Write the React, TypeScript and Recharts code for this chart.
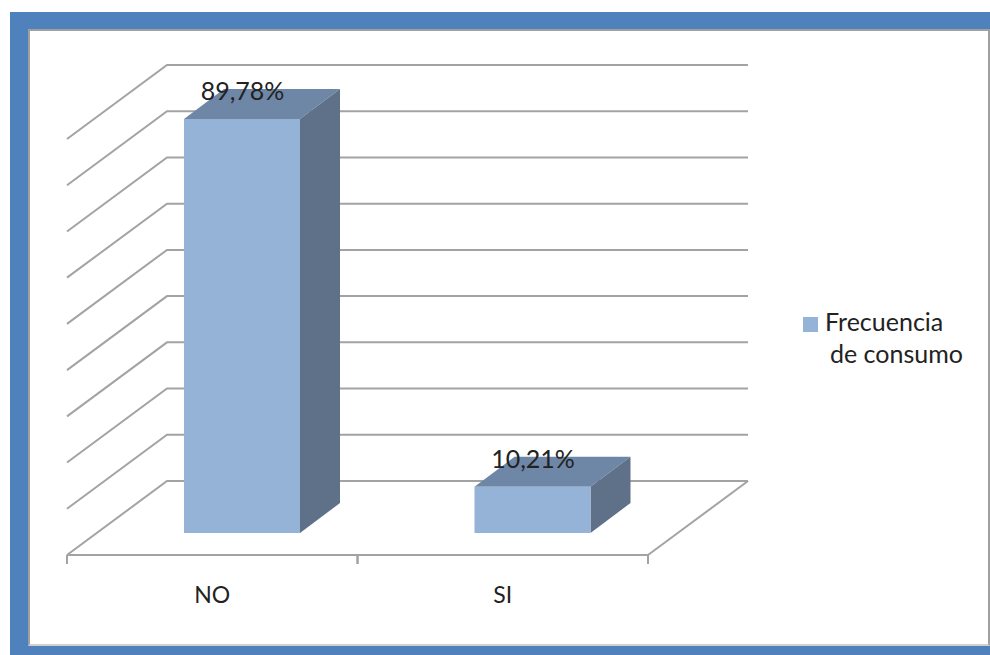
import { Bar, BarChart, CartesianGrid, LabelList, Legend, XAxis, YAxis } from "recharts";

const categories = ["NO", "SI"];
const frecuencia = [89.78, 10.21];
const valueTicks = [0, 10, 20, 30, 40, 50, 60, 70, 80, 90];
const seriesName = "Frecuencia de consumo";

const data = categories.map((c, i) => ({ name: c, value: frecuencia[i] }));

const FONT = "Lato, sans-serif";
const GRID_COLOR = "#a3a3a3";
const TEXT_COLOR = "#222";
const FLOOR_Y = 555;
const WALL_DX = 100;
const WALL_DY = 74;
const BAR_DX = 30;
const BAR_DY = 21;
const TOP_DX = 40;
const TOP_DY = 30;

// back wall line + the diagonal on the left wall, one per y tick
function WallLine(props: any) {
  const { x1, x2, y1, index } = props;
  const bx1 = x1 + WALL_DX;
  const bx2 = x2 + WALL_DX;
  const by = y1 - WALL_DY;
  const floor = Math.abs(y1 - FLOOR_Y) < 1;
  return (
    <g key={index}>
      <polyline points={`${x1},${y1} ${bx1},${by} ${bx2},${by}`} fill="none" stroke={GRID_COLOR} strokeWidth={2} />
      {floor && <line x1={x2} y1={y1} x2={bx2} y2={by} stroke={GRID_COLOR} strokeWidth={2} />}
    </g>
  );
}

function Box3D(props: any) {
  const { x, y, width, height } = props;
  const fx = x + BAR_DX;
  const fy = y - BAR_DY;
  const h = height - 1;
  return (
    <g>
      <polygon
        points={`${fx},${fy} ${fx + TOP_DX},${fy - TOP_DY} ${fx + width + TOP_DX},${fy - TOP_DY} ${fx + width},${fy}`}
        fill="#6f87a6"
      />
      <polygon
        points={`${fx + width},${fy} ${fx + width + TOP_DX},${fy - TOP_DY} ${fx + width + TOP_DX},${fy + h - TOP_DY} ${fx + width},${fy + h}`}
        fill="#5e7189"
      />
      <rect x={fx} y={fy} width={width} height={h} fill="#95b3d7" />
    </g>
  );
}

function AxisTick(props: any) {
  const { x, y, payload } = props;
  const half = 290.5 / 2;
  return (
    <g>
      <line x1={x - half} y1={FLOOR_Y} x2={x - half} y2={FLOOR_Y + 9} stroke={GRID_COLOR} strokeWidth={2} />
      <line x1={x + half} y1={FLOOR_Y} x2={x + half} y2={FLOOR_Y + 9} stroke={GRID_COLOR} strokeWidth={2} />
      <text x={x} y={y + 40} textAnchor="middle" fontFamily={FONT} fontSize={23} fill={TEXT_COLOR}>
        {payload.value}
      </text>
    </g>
  );
}

function ValueLabel(props: any) {
  const { x, y, width, value } = props;
  return (
    <text
      x={x + BAR_DX + width / 2 + 0.5}
      y={y - BAR_DY - 19}
      textAnchor="middle"
      fontFamily={FONT}
      fontSize={25}
      fill={TEXT_COLOR}
    >
      {String(value).replace(".", ",")}%
    </text>
  );
}

function LegendBox({ payload }: any) {
  const entry = payload?.[0];
  if (!entry) return null;
  const [first, ...rest] = entry.value.split(" ");
  return (
    <div style={{ fontFamily: FONT, fontSize: 25, lineHeight: "32px", color: TEXT_COLOR, whiteSpace: "nowrap" }}>
      <div>
        <span
          style={{ display: "inline-block", width: 15, height: 15, background: entry.color, marginRight: 7, verticalAlign: -1 }}
        />
        {first}
      </div>
      <div style={{ paddingLeft: 27 }}>{rest.join(" ")}</div>
    </div>
  );
}

export default function App() {
  return (
    <div style={{ position: "absolute", left: 0, top: 0, width: 990, height: 655, background: "#fff", overflow: "hidden" }}>
      <div
        style={{
          position: "absolute",
          left: 10,
          top: 12,
          width: 980,
          height: 643,
          background: "#4f81bd",
        }}
      />
      <div
        style={{
          position: "absolute",
          left: 28,
          top: 29,
          width: 958,
          height: 613,
          background: "#fff",
          borderLeft: "2px solid #a0a0a0",
          borderTop: "2px solid #a0a0a0",
          borderRight: "2px solid #a0a0a0",
          borderBottom: "2px solid #d0d0d0",
        }}
      />
      <div style={{ position: "absolute", left: 0, top: 0 }}>
        <BarChart
          width={990}
          height={655}
          data={data}
          margin={{ top: 139, right: 342, bottom: 60, left: 67 }}
          barSize={116}
        >
          <CartesianGrid vertical={false} horizontal={WallLine} />
          <XAxis
            dataKey="name"
            height={40}
            tickLine={false}
            axisLine={{ stroke: GRID_COLOR, strokeWidth: 2 }}
            tick={AxisTick}
            interval={0}
          />
          <YAxis hide width={0} domain={[0, 90]} ticks={valueTicks} />
          <Legend
            layout="vertical"
            align="center"
            verticalAlign="middle"
            wrapperStyle={{ left: 803, top: 305, width: 180 }}
            content={LegendBox}
          />
          <Bar dataKey="value" name={seriesName} fill="#95b3d7" shape={Box3D} isAnimationActive={false}>
            <LabelList dataKey="value" content={ValueLabel} />
          </Bar>
        </BarChart>
      </div>
    </div>
  );
}
